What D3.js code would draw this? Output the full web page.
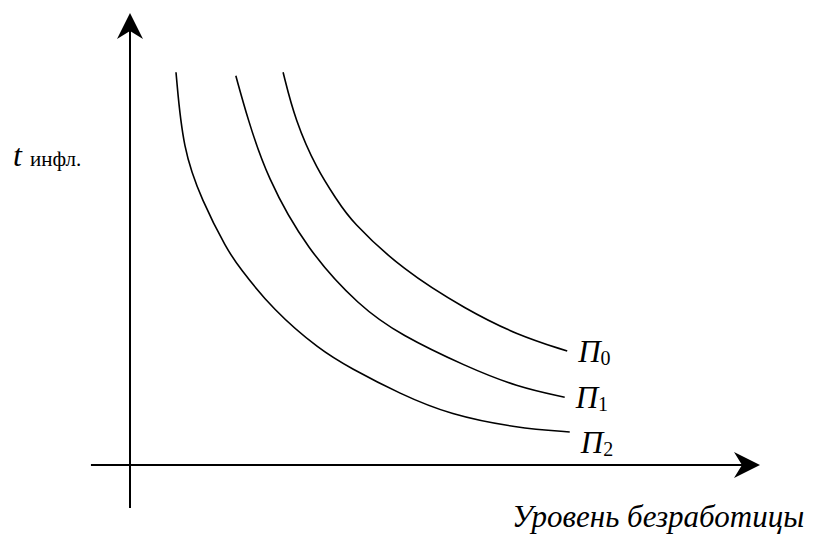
<!DOCTYPE html>
<html lang="ru">
<head>
  <meta charset="UTF-8">
  <title>Кривые Филлипса</title>
  <script src="https://cdnjs.cloudflare.com/ajax/libs/d3/7.8.5/d3.min.js"></script>
  <style>
      body {
          margin: 0;
          background: #fff;
          font-family: "Liberation Serif", serif;
      }
  </style>
</head>
<body>

<div id="chart"></div>

<script>
  // Data (axis units: unemployment on x, inflation on y, both 0..10)
  const seriesNames = ["П", "П", "П"];
  const seriesSubs = ["0", "1", "2"];

  const curveP0 = [
    [2.43, 8.69], [2.62, 7.63], [2.97, 6.53], [3.29, 5.86], [3.49, 5.42],
    [4.33, 4.31], [5.35, 3.43], [6.14, 2.88], [6.94, 2.52]
  ];
  const curveP1 = [
    [1.68, 8.61], [1.86, 7.70], [2.17, 6.37], [2.81, 4.76],
    [3.65, 3.50], [4.29, 2.88], [5.35, 2.17], [6.14, 1.73], [6.90, 1.50]
  ];
  const curveP2 = [
    [0.73, 8.69], [0.84, 6.97], [1.14, 5.86], [1.54, 4.76], [1.73, 4.38],
    [2.27, 3.43], [3.02, 2.54], [3.49, 2.15], [4.29, 1.57], [5.08, 1.11],
    [6.14, 0.82], [6.98, 0.73]
  ];

  const xAxisExtent = [-0.62, 10];
  const yAxisExtent = [-0.95, 10];

  const xTitle = "Уровень безработицы";
  const yTitle = "t";
  const yTitleSub = "инфл.";

  // Layout
  const width = 819;
  const height = 535;
  const originX = 130;
  const originY = 465;
  const xEnd = 760;
  const yEnd = 13;
  const labelDx = 11;
  const labelDy = [11, 11, 21];
  const serif = "Liberation Serif";

  const x = d3.scaleLinear([0, 10], [originX, xEnd]);
  const y = d3.scaleLinear([0, 10], [originY, yEnd]);

  const svg = d3.select("#chart")
      .append("svg")
      .attr("width", width)
      .attr("height", height)
      .attr("viewBox", [0, 0, width, height]);

  // arrow head with a notched back, pointing along angle (radians)
  function arrowPath (tx, ty, angle) {
    const len = 26, half = 13, notch = 18;
    const pts = [[0, 0], [-len, -half], [-notch, 0], [-len, half]];
    const c = Math.cos(angle), s = Math.sin(angle);
    return "M" + pts.map(([px, py]) => [tx + px * c - py * s, ty + px * s + py * c].join(",")).join("L") + "Z";
  }

  // axes
  const axes = svg.append("g");
  axes.append("line")
      .attr("x1", x(xAxisExtent[0])).attr("x2", x(xAxisExtent[1]) - 16)
      .attr("y1", y(0)).attr("y2", y(0))
      .attr("stroke", "#000").attr("stroke-width", 2);
  axes.append("line")
      .attr("x1", x(0)).attr("x2", x(0))
      .attr("y1", y(yAxisExtent[0])).attr("y2", y(yAxisExtent[1]) + 16)
      .attr("stroke", "#000").attr("stroke-width", 2);
  axes.append("path")
      .attr("d", arrowPath(x(xAxisExtent[1]), y(0), 0))
      .attr("fill", "#000");
  axes.append("path")
      .attr("d", arrowPath(x(0), y(yAxisExtent[1]), -Math.PI / 2))
      .attr("fill", "#000");

  // curves
  const line = d3.line()
      .x(d => x(d[0]))
      .y(d => y(d[1]))
      .curve(d3.curveBasis);

  const curves = [curveP0, curveP1, curveP2];

  svg.append("g")
      .attr("fill", "none")
      .attr("stroke", "#000")
      .attr("stroke-width", 1.6)
    .selectAll("path")
    .data(curves)
    .join("path")
      .attr("d", line);

  // curve labels
  const labels = svg.append("g")
    .selectAll("text")
    .data(curves)
    .join("text")
      .attr("x", d => x(d[d.length - 1][0]) + labelDx)
      .attr("y", (d, i) => y(d[d.length - 1][1]) + labelDy[i])
      .attr("font-family", serif)
      .attr("font-size", 31)
      .attr("font-style", "italic")
      .text((d, i) => seriesNames[i]);
  labels.append("tspan")
      .attr("font-size", 20)
      .attr("font-style", "normal")
      .attr("dy", 3)
      .text((d, i) => seriesSubs[i]);

  // axis titles
  const yLabel = svg.append("text")
      .attr("font-family", serif)
      .attr("x", 13)
      .attr("y", 166);
  yLabel.append("tspan")
      .attr("font-size", 32)
      .attr("font-style", "italic")
      .text(yTitle);
  yLabel.append("tspan")
      .attr("x", 30)
      .attr("font-size", 21)
      .text(yTitleSub);

  svg.append("text")
      .attr("font-family", serif)
      .attr("x", 512)
      .attr("y", 527)
      .attr("font-size", 31)
      .attr("font-style", "italic")
      .text(xTitle);
</script>
</body>
</html>
